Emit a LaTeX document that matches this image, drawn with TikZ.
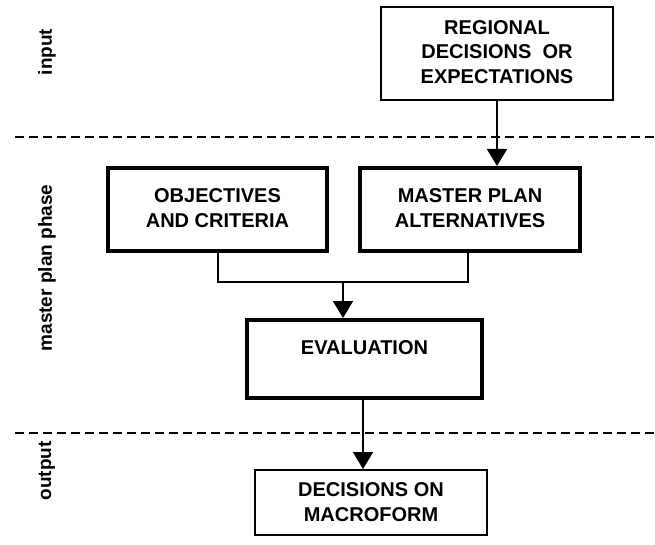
\documentclass[tikz,border=0pt]{standalone}
\usepackage{fontspec}
\setmainfont{Liberation Sans}
\usetikzlibrary{arrows.meta}
\begin{document}
\begin{tikzpicture}[x=1pt,y=-1pt,
  thinbox/.style={draw,line width=2pt},
  thickbox/.style={draw,line width=4.5pt},
  lbl/.style={font=\fontsize{20}{24.5}\selectfont\bfseries,align=center},
  side/.style={font=\fontsize{19}{22}\selectfont\bfseries,rotate=90},
  conn/.style={line width=1.8pt},
  arr/.style={conn,-{Triangle[width=20pt,length=17pt]}},
  sep/.style={line width=1.8pt,dash pattern=on 9pt off 5pt}]
\useasboundingbox (0,0) rectangle (655,545);
% boxes
\draw[thinbox] (381,7) rectangle (613,100);
\node[lbl] (reg) at (497,52) {REGIONAL\\DECISIONS~ OR\\EXPECTATIONS};
\draw[thickbox] (108,168) rectangle (327,251);
\node[lbl] (obj) at (217.5,208) {OBJECTIVES\\AND CRITERIA};
\draw[thickbox] (360,168) rectangle (580,251);
\node[lbl] (mpa) at (470,208) {MASTER PLAN\\ALTERNATIVES};
\draw[thickbox] (247,320) rectangle (482,398);
\node[lbl] (eva) at (364.5,348) {EVALUATION};
\draw[thinbox] (255,470) rectangle (487,535);
\node[lbl] (dec) at (371,502) {DECISIONS ON\\MACROFORM};
% named anchors
\coordinate (regB) at (497,100);
\coordinate (mpaT) at (497,166);
\coordinate (objB) at (218,253);
\coordinate (mpaB) at (468,253);
\coordinate (join) at (343,282);
\coordinate (evaT) at (343,318);
\coordinate (evaB) at (363,400);
\coordinate (decT) at (363,469);
% separators
\coordinate (s1a) at (15,137); \coordinate (s1b) at (655,137);
\coordinate (s2a) at (15,433); \coordinate (s2b) at (655,433);
\draw[sep] (s1a) -- (s1b);
\draw[sep] (s2a) -- (s2b);
% connectors
\draw[arr] (regB) -- (mpaT);
\draw[conn] (objB) |- (join) -| (mpaB);
\draw[arr] (join) -- (evaT);
\draw[arr] (evaB) -- (decT);
% side labels
\node[side] (in) at (47,52) {input};
\node[side] (mp) at (47,268) {master plan phase};
\node[side] (out) at (47,471) {output};
\end{tikzpicture}
\end{document}
